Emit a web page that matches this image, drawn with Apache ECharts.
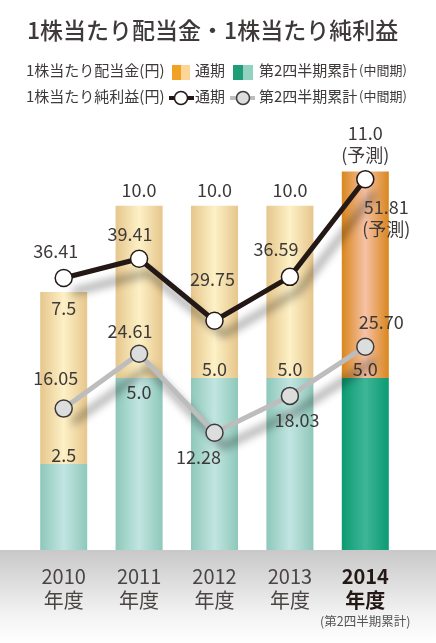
<!DOCTYPE html>
<html>
<head>
<meta charset="utf-8">
<title>1株当たり配当金・1株当たり純利益</title>
<script src="https://cdn.jsdelivr.net/npm/echarts@6/dist/echarts.min.js"></script>
<style>
  html, body { margin: 0; padding: 0; background: #fff; }
  #chart { width: 436px; height: 643px; }
</style>
</head>
<body>
<div id="chart"></div>
<script>
    // データ
    var years = ['2010', '2011', '2012', '2013', '2014'];
    var divAnnual = [7.5, 10.0, 10.0, 10.0, 11.0];     // 配当金 通期
    var divInterim = [2.5, 5.0, 5.0, 5.0, 5.0];        // 配当金 第2四半期累計
    var epsAnnual = [36.41, 39.41, 29.75, 36.59, 51.81];  // 純利益 通期
    var epsInterim = [16.05, 24.61, 12.28, 18.03, 25.70]; // 純利益 第2四半期累計
    var forecastIdx = 4;

    var FONT = '"Noto Sans CJK JP", "Noto Sans", sans-serif';
    var TXT = '#3e3a39';

    function hGrad(edge, mid) {
        return new echarts.graphic.LinearGradient(0, 0, 1, 0, [
            {offset: 0, color: edge}, {offset: 0.5, color: mid}, {offset: 1, color: edge}
        ]);
    }
    var yellow = hGrad('#e6c68c', '#fdf1c6');
    var green = hGrad('#8ec8ba', '#c2e5e1');
    var orange = hGrad('#d9861c', '#f6c2a6');
    var greenDark = hGrad('#0c9a72', '#3db697');

    var labelBase = {show: true, fontFamily: FONT, fontSize: 18, color: TXT};

    // 棒ラベルの位置
    var interimPos = ['top', 'insideTop', 'top', 'top', 'top'];
    var annualPos = ['insideTop', 'top', 'top', 'top', 'top'];
    // 折れ線ラベルのずれ
    var annualOff = [[-8, -27], [-9, -25], [-2, -42], [-14, -28], [21, 39]];
    var interimOff = [[-8, -30], [-9, -23], [-16, 24], [7, 24], [16, -25]];

    var interimData = [], restData = [], epsAData = [], epsIData = [];
    for (var i = 0; i < years.length; i++) {
        var last = i === forecastIdx;
        interimData.push({
            value: divInterim[i],
            itemStyle: {color: last ? greenDark : green},
            label: {position: interimPos[i], distance: interimPos[i] === 'top' ? 0 : 5}
        });
        restData.push({
            value: +(divAnnual[i] - divInterim[i]).toFixed(2),
            itemStyle: {color: last ? orange : yellow},
            label: {position: annualPos[i], distance: 5, lineHeight: 22}
        });
        epsAData.push({
            value: epsAnnual[i],
            label: {offset: annualOff[i], lineHeight: 22}
        });
        epsIData.push({
            value: epsInterim[i],
            label: {offset: interimOff[i]}
        });
    }

    var myChart = echarts.init(document.getElementById('chart'));

    var option = {
        animation: false,
        grid: {left: 26, right: 33, top: 137, bottom: 93},
        xAxis: {
            type: 'category',
            data: years,
            axisLine: {show: false},
            axisTick: {show: false},
            axisLabel: {
                interval: 0,
                margin: 14,
                fontFamily: FONT,
                lineHeight: 24,
                formatter: function (v, idx) {
                    if (idx === forecastIdx) {
                        return '{b|' + v + '}\n{b|年度}\n{s|(第2四半期累計)}';
                    }
                    return '{n|' + v + '}\n{n|年度}';
                },
                rich: {
                    n: {fontFamily: FONT, fontSize: 20, color: '#4a4544', lineHeight: 24},
                    b: {fontFamily: FONT, fontSize: 20, fontWeight: 'bold', color: '#231815', lineHeight: 24},
                    s: {fontFamily: FONT, fontSize: 12.5, color: '#555', lineHeight: 18}
                }
            }
        },
        yAxis: [
            {type: 'value', min: 0, max: 12, show: false, splitLine: {show: false}},
            {type: 'value', min: -6, max: 58.4, show: false, splitLine: {show: false}}
        ],
        graphic: [
            {
                type: 'rect', z: -10, silent: true,
                shape: {x: 0, y: 550, width: 436, height: 93},
                style: {
                    fill: new echarts.graphic.LinearGradient(0, 0, 0, 1, [
                        {offset: 0, color: '#c8c8c8'}, {offset: 0.7, color: '#f3f3f3'}, {offset: 1, color: '#ffffff'}
                    ])
                }
            },
            {
                type: 'text', left: 27, top: 19,
                style: {text: '1株当たり配当金・1株当たり純利益', font: '500 23px ' + FONT, fill: '#3e3a39'}
            },
            // 凡例 1行目
            {type: 'text', left: 26, top: 63, style: {text: '1株当たり配当金(円)', font: '15px ' + FONT, fill: TXT}},
            {type: 'rect', shape: {x: 172, y: 65, width: 9, height: 15}, style: {fill: '#f1a225'}},
            {type: 'rect', shape: {x: 181, y: 65, width: 9, height: 15}, style: {fill: '#fdd596'}},
            {type: 'text', left: 195, top: 63, style: {text: '通期', font: '15px ' + FONT, fill: TXT}},
            {type: 'rect', shape: {x: 233, y: 65, width: 10, height: 15}, style: {fill: '#1f9d76'}},
            {type: 'rect', shape: {x: 243, y: 65, width: 10, height: 15}, style: {fill: '#93d2c0'}},
            {type: 'text', left: 259, top: 63, style: {text: '第2四半期累計', font: '15px ' + FONT, fill: TXT}},
            {type: 'text', left: 359, top: 64, style: {text: '(中間期)', font: '13px ' + FONT, fill: TXT}},
            // 凡例 2行目
            {type: 'text', left: 26, top: 89, style: {text: '1株当たり純利益(円)', font: '15px ' + FONT, fill: TXT}},
            {type: 'line', shape: {x1: 169, y1: 98, x2: 194, y2: 98}, style: {stroke: '#231815', lineWidth: 4}},
            {type: 'circle', shape: {cx: 181, cy: 98, r: 6.5}, style: {fill: '#fff', stroke: '#231815', lineWidth: 1.5}},
            {type: 'text', left: 195, top: 89, style: {text: '通期', font: '15px ' + FONT, fill: TXT}},
            {type: 'line', shape: {x1: 230, y1: 98, x2: 255, y2: 98}, style: {stroke: '#bdbdbd', lineWidth: 4}},
            {type: 'circle', shape: {cx: 243, cy: 98, r: 6.5}, style: {fill: '#dcdddd', stroke: '#3e3a39', lineWidth: 1.5}},
            {type: 'text', left: 259, top: 89, style: {text: '第2四半期累計', font: '15px ' + FONT, fill: TXT}},
            {type: 'text', left: 359, top: 90, style: {text: '(中間期)', font: '13px ' + FONT, fill: TXT}}
        ],
        series: [
            {
                name: '配当金 第2四半期累計',
                type: 'bar',
                stack: 'div',
                barWidth: 47,
                data: interimData,
                label: Object.assign({}, labelBase, {
                    formatter: function (p) { return divInterim[p.dataIndex].toFixed(1); }
                })
            },
            {
                name: '配当金 通期',
                type: 'bar',
                stack: 'div',
                barWidth: 47,
                data: restData,
                label: Object.assign({}, labelBase, {
                    formatter: function (p) {
                        var s = divAnnual[p.dataIndex].toFixed(1);
                        return p.dataIndex === forecastIdx ? s + '\n(予測)' : s;
                    }
                })
            },
            {
                name: '純利益 第2四半期累計',
                type: 'line',
                yAxisIndex: 1,
                data: epsIData,
                symbol: 'circle',
                symbolSize: 17,
                lineStyle: {
                    color: '#bdbdbd', width: 5,
                    shadowColor: 'rgba(0,0,0,0.45)', shadowBlur: 8, shadowOffsetX: 9, shadowOffsetY: 14
                },
                itemStyle: {color: '#dcdddd', borderColor: '#3e3a39', borderWidth: 1.5},
                label: Object.assign({}, labelBase, {
                    position: 'inside', align: 'center', verticalAlign: 'middle',
                    formatter: function (p) { return epsInterim[p.dataIndex].toFixed(2); }
                }),
                z: 3
            },
            {
                name: '純利益 通期',
                type: 'line',
                yAxisIndex: 1,
                data: epsAData,
                symbol: 'circle',
                symbolSize: 17,
                lineStyle: {
                    color: '#231815', width: 5,
                    shadowColor: 'rgba(0,0,0,0.45)', shadowBlur: 8, shadowOffsetX: 9, shadowOffsetY: 14
                },
                itemStyle: {color: '#ffffff', borderColor: '#231815', borderWidth: 1.5},
                label: Object.assign({}, labelBase, {
                    position: 'inside', align: 'center', verticalAlign: 'middle',
                    formatter: function (p) {
                        var s = epsAnnual[p.dataIndex].toFixed(2);
                        return p.dataIndex === forecastIdx ? s + '\n(予測)' : s;
                    }
                }),
                z: 4
            }
        ]
    };

    myChart.setOption(option);
</script>
</body>
</html>
